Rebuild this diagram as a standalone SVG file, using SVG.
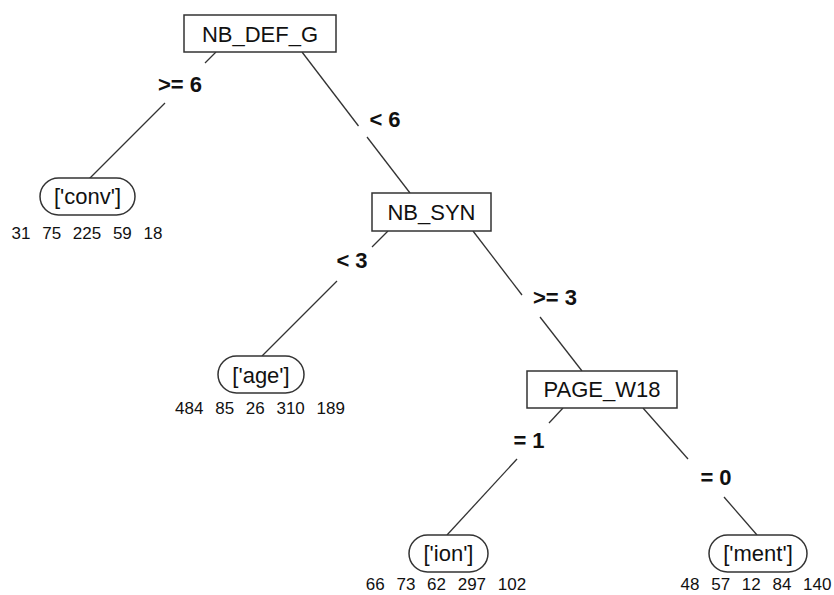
<svg xmlns="http://www.w3.org/2000/svg" width="834" height="595" viewBox="0 0 834 595">
<style>
.box{fill:#fff;stroke:#333;stroke-width:1.5}
.lbl{font-family:"Liberation Sans",Arial,sans-serif;font-size:22px;fill:#111;text-anchor:middle}
.edge{font-family:"Liberation Sans",Arial,sans-serif;font-size:22px;font-weight:bold;fill:#111;text-anchor:middle}
.num{font-family:"Liberation Sans",Arial,sans-serif;font-size:17px;fill:#111;text-anchor:middle;word-spacing:7px}
.ln{stroke:#333;stroke-width:1.3;fill:none}
</style>
<rect width="834" height="595" fill="#fff"/>
<g id="connectors">
<line class="ln" x1="216" y1="52" x2="205" y2="63"/>
<line class="ln" x1="165" y1="103" x2="89" y2="179"/>
<line class="ln" x1="302" y1="52" x2="358.5" y2="126"/>
<line class="ln" x1="367" y1="137" x2="410" y2="193"/>
<line class="ln" x1="388" y1="231" x2="372" y2="247"/>
<line class="ln" x1="337" y1="281" x2="262" y2="356"/>
<line class="ln" x1="473" y1="231" x2="522" y2="295"/>
<line class="ln" x1="540" y1="317" x2="582" y2="371"/>
<line class="ln" x1="563" y1="408" x2="549" y2="423"/>
<line class="ln" x1="517" y1="459" x2="447" y2="535"/>
<line class="ln" x1="643" y1="408" x2="688" y2="459"/>
<line class="ln" x1="724" y1="497" x2="757" y2="535"/>
<text class="edge" x="180" y="92">&gt;= 6</text>
<text class="edge" x="385" y="127">&lt; 6</text>
<text class="edge" x="352" y="268">&lt; 3</text>
<text class="edge" x="555" y="305">&gt;= 3</text>
<text class="edge" x="529" y="448">= 1</text>
<text class="edge" x="716" y="485">= 0</text>
</g>
<g id="node-NB_DEF_G">
<rect class="box" x="184" y="15" width="152" height="37"/>
<text class="lbl" x="260" y="41.5">NB_DEF_G</text>
</g>
<g id="node-NB_SYN">
<rect class="box" x="372" y="193" width="119" height="38"/>
<text class="lbl" x="431.5" y="220">NB_SYN</text>
</g>
<g id="node-PAGE_W18">
<rect class="box" x="527" y="371" width="150" height="37"/>
<text class="lbl" x="602" y="397">PAGE_W18</text>
</g>
<g id="leaf-conv">
<rect class="box" x="40" y="178" width="95" height="37" rx="18.5"/>
<text class="lbl" x="87.5" y="204">['conv']</text>
<text class="num" x="87" y="239">31 75 225 59 18</text>
</g>
<g id="leaf-age">
<rect class="box" x="218" y="356" width="86" height="37" rx="18.5"/>
<text class="lbl" x="261" y="382.5">['age']</text>
<text class="num" x="260" y="414">484 85 26 310 189</text>
</g>
<g id="leaf-ion">
<rect class="box" x="409" y="535" width="79" height="37" rx="18.5"/>
<text class="lbl" x="448.5" y="561">['ion']</text>
<text class="num" x="446" y="590">66 73 62 297 102</text>
</g>
<g id="leaf-ment">
<rect class="box" x="709" y="535" width="98" height="37" rx="18.5"/>
<text class="lbl" x="758" y="561">['ment']</text>
<text class="num" x="756" y="590">48 57 12 84 140</text>
</g>
</svg>
